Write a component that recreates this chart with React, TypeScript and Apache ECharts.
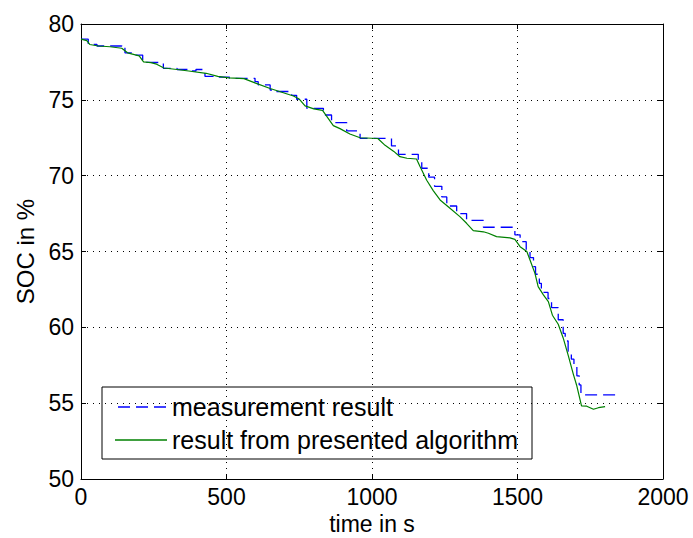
import React, { useEffect, useRef } from "react";
import * as echarts from "echarts";

// measurement result: stepped levels [time s, SOC %]
const measTimes = [0, 25, 55, 140, 151, 175, 212, 250, 283, 330, 370, 395, 426, 460, 510, 598, 609, 650, 660, 724, 741, 776, 833, 861, 913, 959, 1067, 1091, 1159, 1171, 1195, 1215, 1240, 1257, 1291, 1325, 1383, 1491, 1509, 1530, 1543, 1555, 1562, 1575, 1582, 1605, 1617, 1640, 1657, 1664, 1674, 1685, 1694, 1704, 1712, 1718, 1852];
const measValues = [79.0, 78.65, 78.55, 78.6, 78.1, 77.95, 77.47, 77.45, 77.08, 77.0, 76.9, 77.0, 76.55, 76.5, 76.42, 76.2, 75.98, 75.65, 75.55, 75.3, 75.04, 74.44, 74.0, 73.5, 72.95, 72.46, 71.96, 71.41, 71.03, 70.49, 69.9, 69.3, 68.6, 68.0, 67.5, 67.05, 66.6, 66.1, 65.65, 65.1, 64.6, 64.0, 63.5, 62.9, 62.3, 61.9, 61.3, 60.5, 59.6, 59.1, 58.4, 57.9, 57.4, 56.8, 56.2, 55.55, 55.55];

// result from presented algorithm [time s, SOC %]
const algTimes = [0, 20, 30, 60, 100, 140, 160, 200, 215, 240, 260, 285, 330, 370, 430, 470, 510, 560, 600, 650, 690, 730, 750, 770, 800, 830, 867, 890, 924, 959, 1020, 1045, 1075, 1096, 1120, 1153, 1165, 1188, 1211, 1234, 1268, 1302, 1325, 1348, 1383, 1400, 1428, 1474, 1491, 1509, 1532, 1543, 1560, 1571, 1589, 1606, 1620, 1640, 1657, 1675, 1692, 1703, 1720, 1738, 1761, 1778, 1801];
const algValues = [79.0, 78.9, 78.65, 78.55, 78.5, 78.4, 78.1, 77.9, 77.5, 77.45, 77.35, 77.1, 77.0, 76.9, 76.75, 76.55, 76.45, 76.4, 76.1, 75.75, 75.5, 75.25, 75.05, 74.6, 74.4, 74.3, 73.3, 73.1, 72.75, 72.5, 72.45, 72.0, 71.6, 71.25, 71.15, 71.1, 70.6, 69.7, 69.0, 68.4, 67.85, 67.3, 66.86, 66.38, 66.3, 66.2, 65.98, 65.9, 65.8, 65.32, 65.0, 64.44, 63.56, 62.68, 62.14, 61.7, 60.8, 60.2, 59.3, 58.1, 56.9, 56.2, 54.82, 54.8, 54.6, 54.7, 54.77];

const seriesNames = ["measurement result", "result from presented algorithm"];
const xTitle = "time in s";
const yTitle = "SOC in %";

const FONT = "'Liberation Sans', Arial, Helvetica, sans-serif";
const BLUE = "#0000ff";
const GREEN = "#008000";

export default function App() {
  const ref = useRef<HTMLDivElement>(null);
  useEffect(() => {
    if (!ref.current) return;
    const chart = echarts.init(ref.current, undefined, { renderer: "svg" });
    const measData = measTimes.map((t, i) => [t, measValues[i]]);
    const algData = algTimes.map((t, i) => [t, algValues[i]]);
    const axisLine = { show: true, onZero: false, lineStyle: { color: "#000", width: 1 } };
    const tick = { show: true, inside: true, length: 5, lineStyle: { color: "#000" } };
    const split = { show: true, lineStyle: { color: "#000", width: 1, type: [1, 5] as any } };
    const label = {
      color: "#000", fontSize: 23, fontFamily: FONT, lineHeight: 22,
      formatter: (v: number) => String(v),
    };
    const legendText = { fill: "#000", fontSize: 25, fontFamily: FONT, verticalAlign: "middle" as const };
    chart.setOption({
      animation: false,
      backgroundColor: "#fff",
      textStyle: { fontFamily: FONT },
      grid: { left: 81, top: 24, right: 30, bottom: 59, containLabel: false, outerBoundsMode: "none" } as any,
      xAxis: [
        {
          type: "value", min: 0, max: 2000, interval: 500,
          axisLine, axisTick: tick, splitLine: split,
          axisLabel: { ...label, margin: 7, showMinLabel: true, showMaxLabel: true, hideOverlap: false },
          name: xTitle, nameLocation: "middle", nameGap: 33, nameMoveOverlap: false,
          nameTextStyle: { color: "#000", fontSize: 23, fontFamily: FONT, lineHeight: 23 },
        },
        {
          type: "value", min: 0, max: 2000, interval: 500, position: "top",
          axisLine, axisTick: tick, splitLine: { show: false }, axisLabel: { show: false },
        },
      ],
      yAxis: [
        {
          type: "value", min: 50, max: 80, interval: 5,
          axisLine, axisTick: tick, splitLine: split,
          axisLabel: { ...label, margin: 7, showMinLabel: true, showMaxLabel: true },
          name: yTitle, nameLocation: "middle", nameGap: 44,
          nameTextStyle: { color: "#000", fontSize: 24, fontFamily: FONT },
        },
        {
          type: "value", min: 50, max: 80, interval: 5, position: "right",
          axisLine, axisTick: tick, splitLine: { show: false }, axisLabel: { show: false },
        },
      ],
      graphic: [
        {
          type: "group", z: 10,
          children: [
            {
              type: "rect", shape: { x: 102, y: 387, width: 430, height: 72 },
              style: { fill: "#fff", stroke: "#000", lineWidth: 1 },
            },
            {
              type: "line", shape: { x1: 118, y1: 407, x2: 167, y2: 407 },
              style: { stroke: BLUE, lineWidth: 1.3, lineDash: [12, 6] },
            },
            {
              type: "text", x: 172, y: 407,
              style: { text: seriesNames[0], ...legendText },
            },
            {
              type: "line", shape: { x1: 115, y1: 440, x2: 167, y2: 440 },
              style: { stroke: GREEN, lineWidth: 1.3 },
            },
            {
              type: "text", x: 172, y: 440,
              style: { text: seriesNames[1], ...legendText },
            },
          ],
        },
      ],
      series: [
        {
          name: seriesNames[0], type: "line", data: measData, step: "end",
          symbol: "none", xAxisIndex: 0, yAxisIndex: 0,
          lineStyle: { color: BLUE, width: 1.3, type: [12, 6] },
          itemStyle: { color: BLUE },
        },
        {
          name: seriesNames[1], type: "line", data: algData,
          symbol: "none", xAxisIndex: 0, yAxisIndex: 0,
          lineStyle: { color: GREEN, width: 1.2 },
          itemStyle: { color: GREEN },
        },
      ],
    });
    return () => chart.dispose();
  }, []);
  return (
    <div
      ref={ref}
      style={{ position: "absolute", left: 0, top: 0, width: 693, height: 538 }}
    />
  );
}
